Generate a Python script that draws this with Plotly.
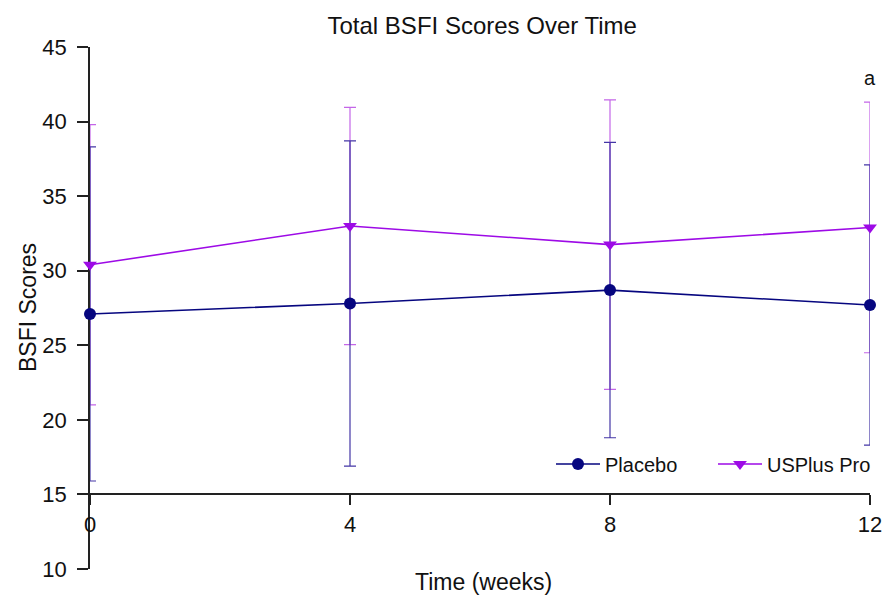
import plotly.graph_objects as go

weeks = [0, 4, 8, 12]
placebo_mean = [27.1, 27.8, 28.7, 27.7]
placebo_sd = [11.2, 10.9, 9.9, 9.4]
usplus_mean = [30.4, 33.0, 31.75, 32.9]
usplus_sd = [9.4, 7.95, 9.7, 8.4]
y_ticks = [10, 15, 20, 25, 30, 35, 40, 45]
x_ticks = [0, 4, 8, 12]

FONT = "Liberation Sans, Arial, Helvetica, sans-serif"
NAVY = "#06067f"
NAVY_BAR = "#4436a6"
PURPLE = "#9d0ae6"
PURPLE_BAR = "#c466e8"

fig = go.Figure()

# error bars (drawn first, beneath lines and markers)
fig.add_trace(go.Scatter(
    x=weeks, y=usplus_mean, mode="markers",
    marker=dict(size=1, opacity=0), showlegend=False, hoverinfo="skip",
    error_y=dict(type="data", array=usplus_sd, color=PURPLE_BAR, thickness=1.2, width=6),
    cliponaxis=False,
))
fig.add_trace(go.Scatter(
    x=weeks, y=placebo_mean, mode="markers",
    marker=dict(size=1, opacity=0), showlegend=False, hoverinfo="skip",
    error_y=dict(type="data", array=placebo_sd, color=NAVY_BAR, thickness=1.2, width=6),
    cliponaxis=False,
))

fig.add_trace(go.Scatter(
    x=weeks, y=usplus_mean, mode="lines+markers", name="USPlus Pro",
    line=dict(color=PURPLE, width=1.6),
    marker=dict(symbol="triangle-down", size=12, color=PURPLE),
    cliponaxis=False, legendrank=2,
))
fig.add_trace(go.Scatter(
    x=weeks, y=placebo_mean, mode="lines+markers", name="Placebo",
    line=dict(color=NAVY, width=1.6),
    marker=dict(symbol="circle", size=12, color=NAVY),
    cliponaxis=False, legendrank=1,
))

fig.update_layout(
    width=893, height=601,
    margin=dict(l=90, r=23, t=47, b=32),
    paper_bgcolor="white", plot_bgcolor="white",
    font=dict(family=FONT, size=22, color="#111111"),
    title=dict(text="Total BSFI Scores Over Time", x=0.54, xanchor="center",
               y=0.958, yanchor="middle", font=dict(size=24, family=FONT)),
    showlegend=True,
    legend=dict(orientation="h", x=(551 - 90) / 780, xanchor="left",
                y=(569 - 464) / 522, yanchor="middle",
                font=dict(size=20, family=FONT), bgcolor="rgba(0,0,0,0)",
                entrywidth=103, itemwidth=44),
    xaxis=dict(range=[0, 12], tickvals=x_ticks, ticktext=[str(v) for v in x_ticks],
               showgrid=False, zeroline=False, showline=True, linecolor="#222222",
               linewidth=1.5, ticks="outside", ticklen=10, tickwidth=1.5,
               tickcolor="#222222", anchor="free", position=5 / 35,
               tickfont=dict(size=22), layer="below traces"),
    yaxis=dict(range=[10, 45], tickvals=y_ticks, ticktext=[str(v) for v in y_ticks],
               showgrid=False, zeroline=False, showline=True, linecolor="#222222",
               linewidth=1.5, ticks="outside", ticklen=11, tickwidth=1.5,
               tickcolor="#222222", tickfont=dict(size=22), layer="below traces",
               ticklabelstandoff=6),
    annotations=[
        dict(text="BSFI Scores", xref="paper", yref="paper", x=(28 - 90) / 780, y=0.5,
             xanchor="center", yanchor="middle", textangle=-90, showarrow=False,
             font=dict(size=23, family=FONT)),
        dict(text="Time (weeks)", xref="paper", yref="paper", x=(483 - 90) / 780,
             y=(569 - 582) / 522, xanchor="center", yanchor="middle", showarrow=False,
             font=dict(size=23, family=FONT)),
        dict(text="a", xref="x", yref="y", x=12, y=42.9, xanchor="center",
             yanchor="middle", showarrow=False, font=dict(size=20, family=FONT)),
    ],
)

fig.write_html("out.html")
